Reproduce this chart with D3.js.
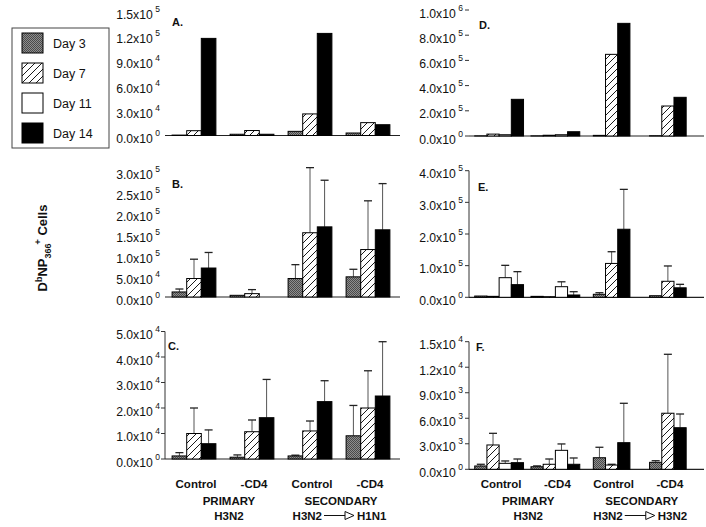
<!DOCTYPE html>
<html><head><meta charset="utf-8">
<script src="https://cdn.jsdelivr.net/npm/d3@7"></script>
<style>
body{margin:0;background:#fff}
svg{display:block}
text{font-family:"Liberation Sans",Arial,Helvetica,sans-serif;fill:#111}
</style>
</head><body>
<svg id="c" width="706" height="527"></svg>
<script>
// ---------- DATA ----------
const days = ["Day 3", "Day 7", "Day 11", "Day 14"];
const groupNames = ["Control", "-CD4", "Control", "-CD4"];
const leftDays = ["Day 3", "Day 7", "Day 14"];
const rightPrimaryDays = ["Day 3", "Day 7", "Day 11", "Day 14"];
const rightSecondaryDays = ["Day 3", "Day 7", "Day 14"];

const valuesA = [[500, 5800, 117000], [1500, 6000, 1500], [5000, 26000, 123000], [3000, 15500, 13000]];
const valuesB = [[12000, 44000, 69000], [4000, 8000, 0], [44000, 153000, 167000], [48000, 113000, 160000]];
const errorsB = [[19000, 90000, 106000], [null, 17600, null], [77000, 308000, 278000], [66000, 229000, 270000]];
const valuesC = [[1200, 10000, 6000], [700, 10700, 16200], [1200, 11000, 22500], [9100, 20000, 24700]];
const errorsC = [[2500, 20000, 11400], [1600, 15300, 31200], [1500, 14900, 30700], [21000, 34600, 46000]];
const valuesD = [[1000, 15000, 10000, 291000], [1000, 6000, 10000, 34000], [5000, 648000, 894000], [2000, 238000, 307000]];
const valuesE = [[4000, 3000, 62000, 40000], [3000, 2000, 33500, 7300], [9500, 107000, 215000], [5000, 50600, 30000]];
const errorsE = [[null, null, 101000, 81000], [null, null, 49000, 17700], [14500, 144000, 341000], [null, 99000, 41000]];
const valuesF = [[390, 2860, 700, 780], [300, 590, 2230, 590], [1360, 500, 3130], [820, 6590, 4890]];
const errorsF = [[590, 4230, 980, 1210], [400, 1210, 2980, 1330], [2590, 590, 7760], [1010, 13520, 6500]];

const ticksA = [0, 30000, 60000, 90000, 120000, 150000];
const ticksB = [0, 50000, 100000, 150000, 200000, 250000, 300000];
const ticksC = [0, 10000, 20000, 30000, 40000, 50000];
const ticksD = [0, 200000, 400000, 600000, 800000, 1000000];
const ticksE = [0, 100000, 200000, 300000, 400000];
const ticksF = [0, 3000, 6000, 9000, 12000, 15000];

const subLabelsLeft = ["PRIMARY", "H3N2", "SECONDARY", "H3N2", "H1N1"];
const subLabelsRight = ["PRIMARY", "H3N2", "SECONDARY", "H3N2", "H3N2"];

// ---------- SETUP ----------
const svg = d3.select("#c");
const defs = svg.append("defs");
const st = defs.append("pattern").attr("id", "stip").attr("patternUnits", "userSpaceOnUse").attr("width", 2).attr("height", 2);
st.append("rect").attr("width", 2).attr("height", 2).attr("fill", "#8e8e8e");
st.append("rect").attr("width", 1).attr("height", 1).attr("fill", "#4a4a4a");
st.append("rect").attr("x", 1).attr("y", 1).attr("width", 1).attr("height", 1).attr("fill", "#4a4a4a");
const ht = defs.append("pattern").attr("id", "hatch").attr("patternUnits", "userSpaceOnUse").attr("width", 7).attr("height", 7);
ht.append("rect").attr("width", 7).attr("height", 7).attr("fill", "#fff");
ht.append("path").attr("d", "M-1,1 L1,-1 M0,7 L7,0 M6,8 L8,6").attr("stroke", "#000").attr("stroke-width", 0.9);
const fills = {"Day 3": "url(#stip)", "Day 7": "url(#hatch)", "Day 11": "#fff", "Day 14": "#000"};

const L = {x0: 165, x1: 397, axisX: 165, axisEnd: 400, bw: 14.6, gap: 5,
  groupDays: [leftDays, leftDays, leftDays, leftDays]};
const R = {x0: 471, x1: 696, axisX: 469, axisEnd: 704, bw: 12.2, gap: 6,
  groupDays: [rightPrimaryDays, rightPrimaryDays, rightSecondaryDays, rightSecondaryDays]};

const panels = [
  Object.assign({}, L, {yTop: 11, yBase: 135.5, ticks: ticksA, values: valuesA, errors: null, letter: "A.", lx: 172, ly: 26, axisLine: false, tickMarks: false}),
  Object.assign({}, L, {yTop: 171, yBase: 297, ticks: ticksB, values: valuesB, errors: errorsB, letter: "B.", lx: 172, ly: 188, axisLine: false, tickMarks: false}),
  Object.assign({}, L, {yTop: 331.5, yBase: 459, ticks: ticksC, values: valuesC, errors: errorsC, letter: "C.", lx: 168, ly: 350, axisLine: true, tickMarks: true}),
  Object.assign({}, R, {yTop: 10, yBase: 136, ticks: ticksD, values: valuesD, errors: null, letter: "D.", lx: 479, ly: 29, axisLine: false, tickMarks: true}),
  Object.assign({}, R, {yTop: 170.7, yBase: 297.3, ticks: ticksE, values: valuesE, errors: errorsE, letter: "E.", lx: 478, ly: 191, axisLine: true, tickMarks: true}),
  Object.assign({}, R, {yTop: 341.7, yBase: 469.3, ticks: ticksF, values: valuesF, errors: errorsF, letter: "F.", lx: 476, ly: 351, axisLine: true, tickMarks: true})
];

function fmt(t) {
  if (t === 0) return ["0.0x10", "0"];
  const e = Math.floor(Math.log10(t) + 1e-9);
  return [(t / Math.pow(10, e)).toFixed(1) + "x10", String(e)];
}

function drawPanel(p) {
  const ticks = p.ticks;
  const y = d3.scaleLinear().domain([0, ticks[ticks.length - 1]]).range([p.yBase, p.yTop]);
  const gx = d3.scaleBand().domain(d3.range(groupNames.length)).range([p.x0, p.x1]);
  const g = svg.append("g");

  ticks.forEach(t => {
    const f = fmt(t);
    const tx = g.append("text").attr("x", p.axisX - p.gap).attr("y", y(t) + 7.5)
      .attr("text-anchor", "end").attr("font-size", 12.2).text(f[0]);
    tx.append("tspan").attr("dy", -7).attr("dx", 2.5).attr("font-size", 8.5).text(f[1]);
    if (p.tickMarks) {
      g.append("line").attr("x1", p.axisX - 4).attr("x2", p.axisX).attr("y1", y(t)).attr("y2", y(t))
        .attr("stroke", "#333").attr("stroke-width", 1);
    }
  });
  if (p.axisLine) {
    g.append("line").attr("x1", p.axisX).attr("x2", p.axisX).attr("y1", y(ticks[ticks.length - 1])).attr("y2", y(0))
      .attr("stroke", "#333").attr("stroke-width", 1);
  }
  g.append("line").attr("x1", p.axisX).attr("x2", p.axisEnd).attr("y1", y(0)).attr("y2", y(0))
    .attr("stroke", "#222").attr("stroke-width", 1.2);

  p.values.forEach((vals, gi) => {
    const dl = p.groupDays[gi];
    const c = gx(gi) + gx.bandwidth() / 2;
    const inner = d3.scaleBand().domain(dl).range([c - dl.length * p.bw / 2, c + dl.length * p.bw / 2]);
    vals.forEach((v, di) => {
      const d = dl[di];
      const x = inner(d), w = inner.bandwidth();
      const e = p.errors ? p.errors[gi][di] : null;
      if (e != null && e > v) {
        g.append("line").attr("x1", x + w / 2).attr("x2", x + w / 2).attr("y1", y(v)).attr("y2", y(e))
          .attr("stroke", "#555").attr("stroke-width", 1);
        g.append("line").attr("x1", x + w / 2 - 4).attr("x2", x + w / 2 + 4).attr("y1", y(e)).attr("y2", y(e))
          .attr("stroke", "#222").attr("stroke-width", 1.3);
      }
      g.append("rect").attr("x", x).attr("y", y(v)).attr("width", w).attr("height", Math.max(0, y(0) - y(v)))
        .attr("fill", fills[d]).attr("stroke", "#000").attr("stroke-width", 1);
    });
  });

  g.append("text").attr("x", p.lx).attr("y", p.ly).attr("font-size", 11).attr("font-weight", "bold").text(p.letter);
  return gx;
}

const scales = panels.map(drawPanel);

// ---------- BOTTOM LABELS ----------
function bottomLabels(gx, subs, primOffset) {
  const cs = d3.range(groupNames.length).map(i => gx(i) + gx.bandwidth() / 2);
  groupNames.forEach((n, i) => {
    svg.append("text").attr("x", cs[i] + 2).attr("y", 488).attr("text-anchor", "middle")
      .attr("font-size", 11.5).attr("font-weight", "bold").text(n);
  });
  const m1 = (cs[0] + cs[1]) / 2 + primOffset, m2 = (cs[2] + cs[3]) / 2 + 2;
  svg.append("text").attr("x", m1).attr("y", 504.5).attr("text-anchor", "middle").attr("font-size", 11.5).attr("font-weight", "bold").text(subs[0]);
  svg.append("text").attr("x", m1).attr("y", 519.5).attr("text-anchor", "middle").attr("font-size", 11.5).attr("font-weight", "bold").text(subs[1]);
  svg.append("text").attr("x", m2).attr("y", 504.5).attr("text-anchor", "middle").attr("font-size", 11.5).attr("font-weight", "bold").text(subs[2]);
  const ay = 515.5;
  svg.append("text").attr("x", m2 - 19).attr("y", 519.5).attr("text-anchor", "end").attr("font-size", 11.5).attr("font-weight", "bold").text(subs[3]);
  svg.append("line").attr("x1", m2 - 17).attr("x2", m2 + 5).attr("y1", ay).attr("y2", ay).attr("stroke", "#111").attr("stroke-width", 1);
  svg.append("path").attr("d", `M${m2 + 4},${ay - 4} L${m2 + 13},${ay} L${m2 + 4},${ay + 4} Z`)
    .attr("fill", "#fff").attr("stroke", "#111").attr("stroke-width", 1);
  svg.append("text").attr("x", m2 + 16).attr("y", 519.5).attr("text-anchor", "start").attr("font-size", 11.5).attr("font-weight", "bold").text(subs[4]);
}
bottomLabels(scales[2], subLabelsLeft, 6);
bottomLabels(scales[5], subLabelsRight, 1);

// ---------- LEGEND ----------
const lg = svg.append("g");
lg.append("rect").attr("x", 12).attr("y", 28).attr("width", 97).attr("height", 120)
  .attr("fill", "#fff").attr("stroke", "#444").attr("stroke-width", 1);
days.forEach((d, i) => {
  lg.append("rect").attr("x", 22).attr("y", 33 + i * 30).attr("width", 21).attr("height", 20)
    .attr("fill", fills[d]).attr("stroke", "#000").attr("stroke-width", 1);
  lg.append("text").attr("x", 53).attr("y", 47.5 + i * 30).attr("font-size", 12.5).text(d);
});

// ---------- Y TITLE ----------
const yt = svg.append("text").attr("transform", "translate(47,248) rotate(-90)")
  .attr("text-anchor", "middle").attr("font-size", 13).attr("font-weight", "bold");
yt.append("tspan").text("D");
yt.append("tspan").attr("dy", -5.5).attr("font-size", 9).text("b");
yt.append("tspan").attr("dy", 5.5).text("NP");
yt.append("tspan").attr("dy", 3.5).attr("font-size", 9).text("366");
yt.append("tspan").attr("dy", -10).attr("dx", -1).attr("font-size", 9).text("+");
yt.append("tspan").attr("dy", 6.5).text(" Cells");
</script>
</body></html>
